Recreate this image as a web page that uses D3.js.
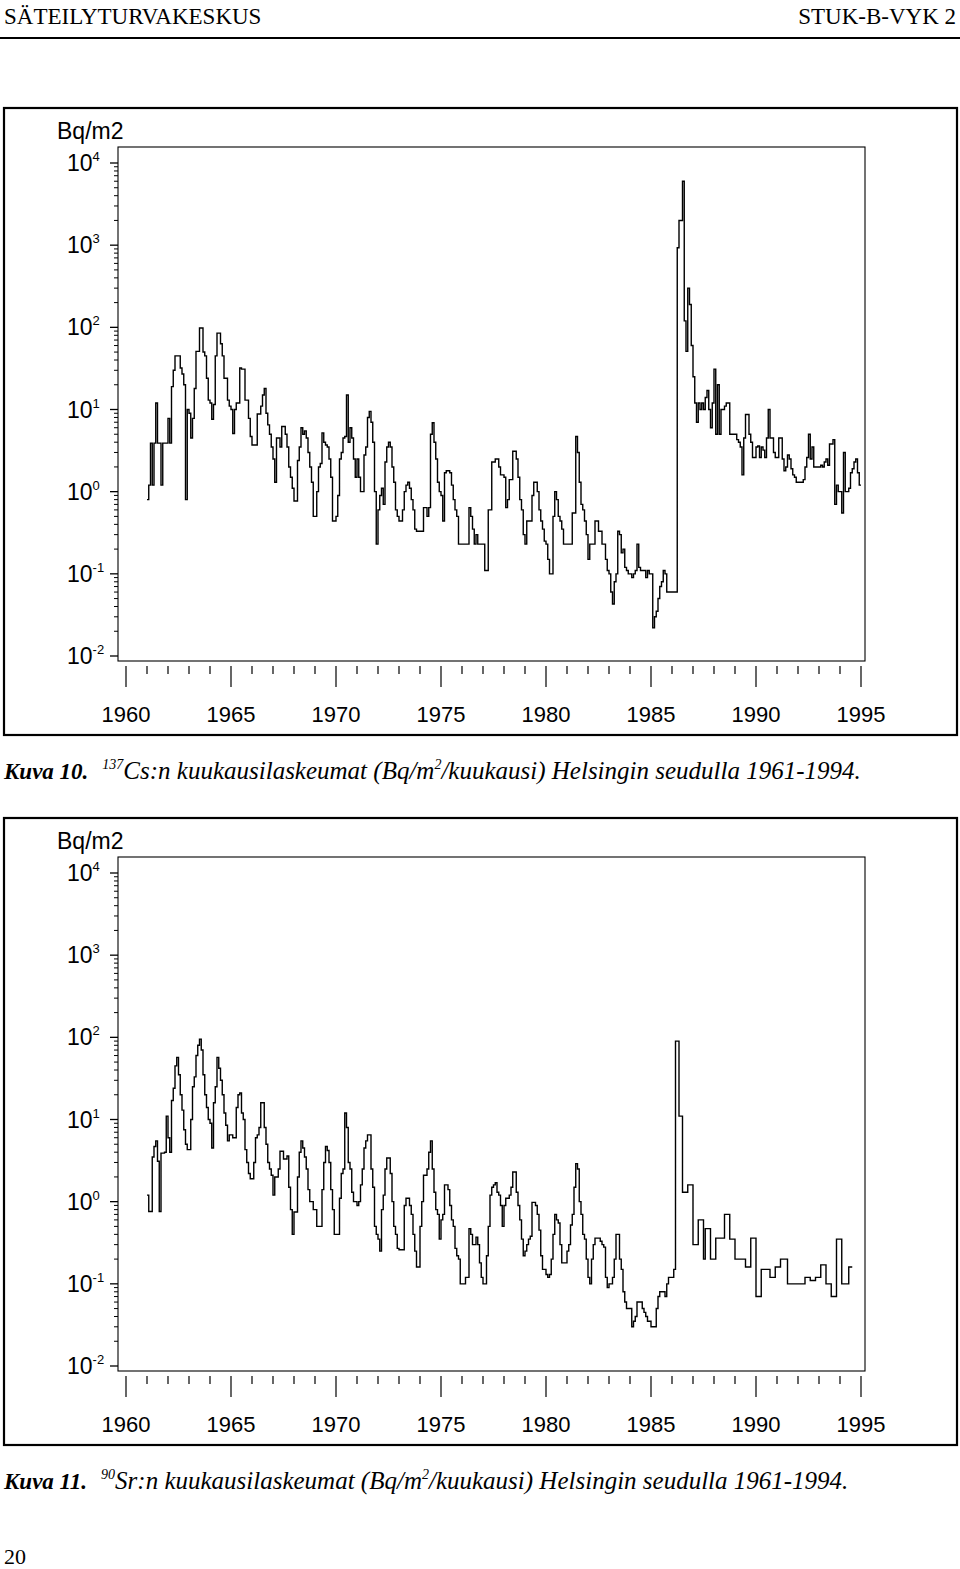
<!DOCTYPE html>
<html lang="fi">
<head>
<meta charset="utf-8">
<title>STUK-B-VYK 2</title>
<script src="https://d3js.org/d3.v7.min.js"></script>
<style>
  body { margin: 0; background: #fff; }
  svg { display: block; }
</style>
</head>
<body>
<svg id="page" width="960" height="1569"></svg>
<script>
// monthly deposition, Bq/m2, one row per year starting 1961
const firstYear = 1961;

const cs137_60s = [
  [0.8, 1.2, 3.9, 1.2, 3.9, 12, 3.9, 3.9, 1.2, 3.9, 3.9, 3.9],
  [7.8, 3.9, 19, 30, 45, 45, 45, 32, 27, 20, 0.8, 10],
  [9, 4.5, 7.8, 18, 51, 51, 98, 98, 50, 45, 24, 13],
  [12, 7.6, 11.5, 45, 85, 85, 63, 45, 24, 24, 13, 11],
  [10, 5.1, 10, 12, 12, 32, 31, 31, 13, 13, 7.8, 4.7],
  [3.7, 3.7, 3.7, 8.8, 8.8, 11, 15, 18, 9, 6.5, 5, 3.5],
  [2.5, 1.3, 4.5, 4.5, 3.5, 6.2, 6.2, 5, 3.5, 2, 1.5, 1.1],
  [0.77, 0.77, 2.4, 3.5, 6, 5, 5.5, 4.5, 3, 2, 1.3, 0.5],
  [0.5, 1, 2, 2.2, 5.2, 4, 3.7, 3.5, 2.5, 1.5, 0.44, 0.44]
];
const cs137_70s = [
  [0.5, 0.9, 2.5, 3, 4.5, 4.7, 15, 4, 6, 4.5, 2.5, 1.5],
  [2.5, 1.5, 1.0, 1.0, 2.8, 3.5, 8, 9.5, 7, 4, 1.0, 0.23],
  [0.6, 0.9, 1.1, 0.7, 2.3, 3.5, 4, 3.5, 2, 1.3, 0.6, 0.5],
  [0.44, 0.44, 0.6, 1.0, 1.2, 1.3, 1.1, 0.8, 0.6, 0.35, 0.33, 0.33],
  [0.33, 0.33, 0.64, 0.64, 0.5, 0.64, 5, 6.9, 4, 2.5, 1.3, 1.0],
  [0.9, 0.44, 1.7, 1.8, 1.8, 1.7, 1.2, 0.8, 0.6, 0.5, 0.23, 0.23],
  [0.23, 0.23, 0.23, 0.23, 0.64, 0.5, 0.35, 0.23, 0.3, 0.23, 0.23, 0.23],
  [0.23, 0.11, 0.11, 0.6, 0.6, 2.3, 2.3, 2.5, 2.5, 2, 1.6, 1.6],
  [1.5, 0.64, 0.8, 1.4, 1.4, 3.1, 3.1, 2.5, 1.5, 0.8, 0.6, 0.3],
  [0.23, 0.44, 0.44, 0.44, 0.9, 1.3, 1.3, 1.0, 0.6, 0.44, 0.35, 0.25]
];
const cs137_80s = [
  [0.23, 0.15, 0.1, 0.1, 0.5, 1.0, 0.8, 0.5, 0.44, 0.35, 0.23, 0.23],
  [0.23, 0.23, 0.23, 0.55, 0.55, 4.7, 3, 1.3, 0.7, 0.6, 0.44, 0.3],
  [0.15, 0.23, 0.23, 0.23, 0.44, 0.44, 0.33, 0.33, 0.23, 0.23, 0.15, 0.11],
  [0.1, 0.06, 0.043, 0.08, 0.1, 0.33, 0.3, 0.18, 0.2, 0.12, 0.11, 0.1],
  [0.1, 0.09, 0.1, 0.11, 0.23, 0.12, 0.11, 0.11, 0.11, 0.09, 0.11, 0.1],
  [0.1, 0.022, 0.03, 0.035, 0.05, 0.07, 0.08, 0.11, 0.1, 0.06, 0.06, 0.06],
  [0.06, 0.06, 0.06, 930, 2000, 2000, 6000, 120, 51, 300, 190, 60],
  [25, 12, 7, 12, 10, 12, 10, 14, 17, 10, 6, 12],
  [31, 5, 20, 5, 10, 10, 11, 12, 12, 5, 5, 5],
  [5, 4.3, 4, 3.5, 1.6, 4.5, 8.7, 8.7, 5, 4, 2.6, 2.6]
];
const cs137_90s = [
  [3.5, 3.6, 2.6, 3.5, 3.2, 2.6, 4.5, 10, 4.5, 4.5, 3, 2.6],
  [2.6, 4.5, 4.5, 2.5, 1.8, 2, 2.8, 2.5, 1.9, 1.6, 1.5, 1.3],
  [1.3, 1.3, 1.3, 1.4, 2, 2.6, 5, 2.5, 3.5, 2, 2, 2],
  [2, 2.1, 2, 2.3, 2.5, 2.1, 3.8, 3.8, 4.3, 0.7, 1.2, 1.0],
  [1, 0.55, 3, 1, 1, 1.1, 1.7, 1.9, 2.3, 2.5, 1.7, 1.2]
];

const sr90_60s = [
  [1.2, 0.76, 0.76, 3.5, 4.7, 5.5, 3.1, 0.76, 3.9, 3.9, 4, 11],
  [6, 4, 17, 24, 45, 57, 35, 20, 13, 7.5, 5, 4.3],
  [4.3, 10, 25, 33, 60, 80, 95, 70, 35, 20, 14, 10],
  [9, 4.5, 16, 25, 57, 42, 30, 20, 12, 8.5, 5.5, 6.5],
  [6.5, 6, 6, 14, 20, 21, 12, 10, 4.3, 3, 2.2, 1.9],
  [1.9, 3, 6, 6.5, 8, 16, 16, 8, 5, 3, 2.5, 2.1],
  [1.2, 2, 2, 2.5, 4.1, 4.1, 3.3, 3.3, 3.6, 1.5, 0.8, 0.4],
  [0.75, 0.75, 2, 4, 5.5, 4.5, 3.5, 2.5, 1.4, 1.0, 1.0, 0.8],
  [0.8, 0.5, 0.5, 0.5, 1.4, 3, 4.7, 4.2, 3, 1.4, 0.8, 0.4]
];
const sr90_70s = [
  [0.4, 0.4, 1.1, 2.2, 2.5, 12, 8, 3, 2.5, 1.3, 1.0, 1.0],
  [0.9, 1.0, 1.6, 2.5, 4.5, 5.5, 6.5, 6.5, 2.5, 1.5, 0.5, 0.4],
  [0.35, 0.25, 0.8, 1.2, 2.5, 3.4, 3.4, 2.2, 1.0, 0.5, 0.4, 0.27],
  [0.26, 0.26, 0.26, 0.9, 1.1, 1.1, 0.9, 0.7, 0.4, 0.25, 0.16, 0.16],
  [0.5, 1.0, 2.1, 2.1, 2.5, 4, 5.5, 2.5, 1.3, 0.8, 0.7, 0.35],
  [0.6, 0.7, 1.6, 1.6, 1.4, 0.9, 0.6, 0.5, 0.27, 0.22, 0.2, 0.1],
  [0.1, 0.1, 0.12, 0.12, 0.47, 0.4, 0.3, 0.3, 0.37, 0.3, 0.18, 0.12],
  [0.1, 0.1, 0.22, 0.5, 1.2, 1.5, 1.6, 1.7, 1.3, 1.2, 0.9, 0.5],
  [0.9, 1.1, 1.1, 1.2, 1.5, 2.3, 2.3, 1.3, 0.9, 0.6, 0.35, 0.22],
  [0.25, 0.3, 0.35, 0.38, 0.98, 0.98, 0.9, 0.7, 0.45, 0.22, 0.15, 0.15]
];
const sr90_80s = [
  [0.13, 0.12, 0.13, 0.2, 0.4, 0.7, 0.6, 0.55, 0.3, 0.18, 0.18, 0.18],
  [0.25, 0.3, 0.52, 0.7, 1.5, 2.9, 2.5, 1.0, 0.7, 0.4, 0.35, 0.2],
  [0.12, 0.1, 0.2, 0.3, 0.36, 0.36, 0.36, 0.33, 0.3, 0.28, 0.12, 0.09],
  [0.1, 0.1, 0.12, 0.2, 0.4, 0.4, 0.2, 0.15, 0.08, 0.06, 0.05, 0.05],
  [0.05, 0.03, 0.035, 0.04, 0.06, 0.06, 0.06, 0.05, 0.045, 0.04, 0.035, 0.035],
  [0.03, 0.03, 0.03, 0.05, 0.07, 0.08, 0.08, 0.08, 0.07, 0.1, 0.12, 0.12],
  [0.12, 0.15, 90, 90, 11, 11, 1.3, 1.3, 1.3, 1.6, 1.6, 1.6],
  [0.3, 0.3, 0.3, 0.6, 0.6, 0.6, 0.2, 0.47, 0.47, 0.47, 0.2, 0.2],
  [0.2, 0.36, 0.36, 0.36, 0.36, 0.36, 0.7, 0.7, 0.7, 0.35, 0.35, 0.35],
  [0.2, 0.2, 0.2, 0.2, 0.2, 0.2, 0.16, 0.16, 0.16, 0.36, 0.36, 0.36]
];
const sr90_90s = [
  [0.07, 0.07, 0.07, 0.15, 0.15, 0.15, 0.15, 0.15, 0.12, 0.12, 0.12, 0.16],
  [0.16, 0.16, 0.2, 0.2, 0.2, 0.2, 0.1, 0.1, 0.1, 0.1, 0.1, 0.1],
  [0.1, 0.1, 0.1, 0.1, 0.12, 0.12, 0.12, 0.11, 0.11, 0.11, 0.12, 0.12],
  [0.12, 0.17, 0.17, 0.17, 0.1, 0.1, 0.1, 0.07, 0.07, 0.07, 0.35, 0.35],
  [0.35, 0.1, 0.1, 0.1, 0.1, 0.16, 0.16]
];

const yearTicks = d3.range(1960, 1996);
const yearLabels = [1960, 1965, 1970, 1975, 1980, 1985, 1990, 1995];
const decades = [-2, -1, 0, 1, 2, 3, 4];

const serif = "'Liberation Serif', 'Times New Roman', serif";
const sans = "'Liberation Sans', Arial, Helvetica, sans-serif";

const svg = d3.select("#page");

// page header
svg.append("text").attr("x", 4).attr("y", 24)
  .attr("font-family", serif).attr("font-size", 23)
  .text("SÄTEILYTURVAKESKUS");
svg.append("text").attr("x", 956).attr("y", 24).attr("text-anchor", "end")
  .attr("font-family", serif).attr("font-size", 23)
  .text("STUK-B-VYK 2");
svg.append("line").attr("x1", 0).attr("x2", 960).attr("y1", 38).attr("y2", 38)
  .attr("stroke", "#000").attr("stroke-width", 2);

function toPoints(rows) {
  const pts = [];
  rows.forEach((row, i) => {
    row.forEach((v, m) => pts.push({ t: firstYear + i + m / 12, v }));
  });
  const last = pts[pts.length - 1];
  pts.push({ t: last.t + 1 / 12, v: last.v });
  return pts;
}

function drawChart(top, rows, capNo, capIso, capSym) {
  const g = svg.append("g").attr("transform", `translate(0,${top})`);

  const x = d3.scaleLinear().domain([1960, 1995]).range([126, 861]);
  const y = d3.scaleLog().domain([1e-2, 1e4]).range([548, 55]);

  g.append("rect")
    .attr("x", 4).attr("y", 0).attr("width", 953).attr("height", 627)
    .attr("fill", "none").attr("stroke", "#000").attr("stroke-width", 2.2);

  g.append("rect")
    .attr("x", 118).attr("y", 39).attr("width", 747).attr("height", 514)
    .attr("fill", "none").attr("stroke", "#000").attr("stroke-width", 1.1);

  g.append("text").attr("x", 57).attr("y", 31)
    .attr("font-family", sans).attr("font-size", 23)
    .text("Bq/m2");

  // y axis ticks (log)
  const minor = [];
  decades.slice(0, -1).forEach(k => {
    for (let j = 2; j <= 9; j++) minor.push(j * Math.pow(10, k));
  });
  g.selectAll(".ymin").data(minor).join("line")
    .attr("x1", 114).attr("x2", 118)
    .attr("y1", d => y(d)).attr("y2", d => y(d))
    .attr("stroke", "#000").attr("stroke-width", 1);
  g.selectAll(".ymaj").data(decades).join("line")
    .attr("x1", 110).attr("x2", 118)
    .attr("y1", d => y(Math.pow(10, d))).attr("y2", d => y(Math.pow(10, d)))
    .attr("stroke", "#000").attr("stroke-width", 1.3);

  const lab = g.selectAll(".ylab").data(decades).join("text")
    .attr("x", 67).attr("y", d => y(Math.pow(10, d)) + 8)
    .attr("font-family", sans).attr("font-size", 23);
  lab.append("tspan").text("10");
  lab.append("tspan").attr("dy", -10).attr("font-size", 13)
    .text(d => (d < 0 ? "-" : "") + Math.abs(d));

  // x axis ticks
  g.selectAll(".xt").data(yearTicks).join("line")
    .attr("x1", d => x(d)).attr("x2", d => x(d))
    .attr("y1", 558).attr("y2", d => (d % 5 === 0 ? 579 : 566))
    .attr("stroke", "#000").attr("stroke-width", 1.2);
  g.selectAll(".xl").data(yearLabels).join("text")
    .attr("x", d => x(d)).attr("y", 614).attr("text-anchor", "middle")
    .attr("font-family", sans).attr("font-size", 22)
    .text(d => d);

  // step line
  const pts = toPoints(rows);
  const line = d3.line()
    .x(d => x(d.t)).y(d => y(d.v))
    .curve(d3.curveStepAfter);
  g.append("path").datum(pts)
    .attr("d", line)
    .attr("fill", "none").attr("stroke", "#000").attr("stroke-width", 1.4);

  // caption
  const no = g.append("text").attr("x", 4).attr("y", 671)
    .attr("font-family", serif).attr("font-size", 23)
    .attr("font-style", "italic").attr("font-weight", "bold")
    .text(capNo);
  const capX = 4 + no.node().getComputedTextLength() + 14;
  const cap = g.append("text").attr("x", capX).attr("y", 671)
    .attr("font-family", serif).attr("font-size", 25).attr("font-style", "italic");
  cap.append("tspan").attr("font-size", 14).attr("dy", -10).text(capIso);
  cap.append("tspan").attr("dy", 10).text(capSym + ":n kuukausilaskeumat (Bq/m");
  cap.append("tspan").attr("font-size", 14).attr("dy", -10).text("2");
  cap.append("tspan").attr("dy", 10).text("/kuukausi) Helsingin seudulla 1961-1994.");
}

drawChart(108, cs137_60s.concat(cs137_70s, cs137_80s, cs137_90s), "Kuva 10.", "137", "Cs");
drawChart(818, sr90_60s.concat(sr90_70s, sr90_80s, sr90_90s), "Kuva 11.", "90", "Sr");

svg.append("text").attr("x", 4).attr("y", 1564)
  .attr("font-family", serif).attr("font-size", 22)
  .text("20");
</script>
</body>
</html>
